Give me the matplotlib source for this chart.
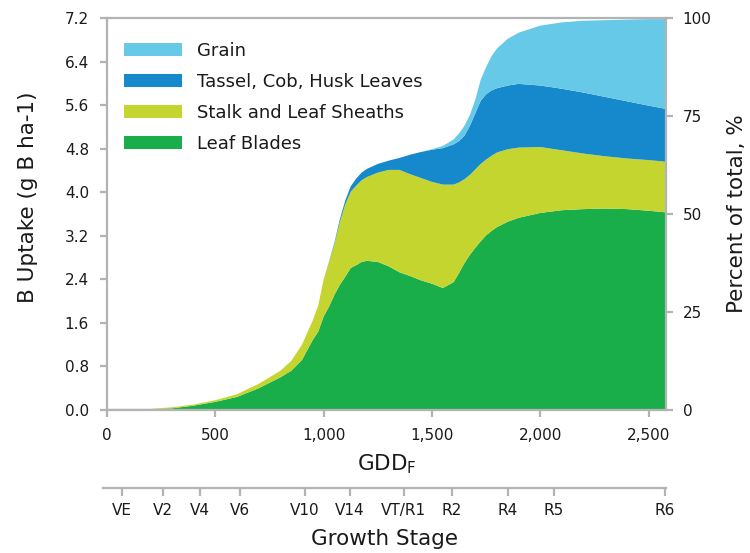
import matplotlib
matplotlib.use("Agg")
import matplotlib.pyplot as plt
from matplotlib.patches import Patch

plt.rcParams['font.family'] = ['DejaVu Sans']
plt.rcParams['mathtext.default'] = 'regular'

gdd = [0, 100, 200, 300, 400, 500, 600, 700, 800, 850, 900, 950, 975, 1000, 1025, 1050,
       1075, 1100, 1125, 1150, 1175, 1200, 1250, 1300, 1350, 1400, 1450, 1500, 1550, 1600,
       1625, 1650, 1675, 1700, 1725, 1750, 1775, 1800, 1850, 1900, 2000, 2100, 2200, 2300,
       2400, 2500, 2580]

leaf_blades = [0.02, 0.02, 0.02, 0.03, 0.08, 0.15, 0.24, 0.40, 0.60, 0.72, 0.92, 1.29, 1.44, 1.72, 1.90, 2.12,
               2.30, 2.45, 2.61, 2.66, 2.72, 2.74, 2.72, 2.64, 2.53, 2.46, 2.38, 2.32, 2.24, 2.35,
               2.52, 2.70, 2.85, 2.98, 3.10, 3.21, 3.29, 3.36, 3.46, 3.53, 3.62, 3.67, 3.69, 3.70,
               3.69, 3.66, 3.63]
stalk_sheaths = [0, 0, 0, 0.02, 0.02, 0.03, 0.05, 0.08, 0.12, 0.18, 0.28, 0.36, 0.48, 0.68, 0.82, 0.93,
                 1.16, 1.33, 1.40, 1.46, 1.50, 1.54, 1.64, 1.77, 1.88, 1.87, 1.88, 1.87, 1.90, 1.79,
                 1.66, 1.54, 1.47, 1.44, 1.42, 1.39, 1.38, 1.37, 1.33, 1.29, 1.21, 1.10, 1.02, 0.96,
                 0.93, 0.93, 0.93]
tassel_cob_husk = [0, 0, 0, 0, 0, 0, 0, 0, 0, 0, 0, 0, 0, 0, 0.01, 0.03,
                   0.05, 0.07, 0.10, 0.13, 0.14, 0.15, 0.16, 0.17, 0.22, 0.36, 0.48, 0.59, 0.67, 0.74,
                   0.76, 0.80, 0.90, 1.03, 1.16, 1.20, 1.20, 1.18, 1.17, 1.17, 1.13, 1.13, 1.12, 1.09,
                   1.05, 1.00, 0.97]
grain = [0, 0, 0, 0, 0, 0, 0, 0, 0, 0, 0, 0, 0, 0, 0, 0,
         0, 0, 0, 0, 0, 0, 0, 0, 0, 0, 0, 0.01, 0.04, 0.09,
         0.14, 0.18, 0.20, 0.25, 0.39, 0.50, 0.63, 0.73, 0.86, 0.94, 1.10, 1.22, 1.32, 1.41,
         1.50, 1.59, 1.65]

series_labels = ['Leaf Blades', 'Stalk and Leaf Sheaths', 'Tassel, Cob, Husk Leaves', 'Grain']
series_colors = ['#1aae4b', '#c5d52f', '#1589cc', '#66c9e8']

y_ticks = [0.0, 0.8, 1.6, 2.4, 3.2, 4.0, 4.8, 5.6, 6.4, 7.2]
pct_ticks = [0, 25, 50, 75, 100]
x_ticks = [0, 500, 1000, 1500, 2000, 2500]
x_tick_labels = ['0', '500', '1,000', '1,500', '2,000', '2,500']

stage_labels = ['VE', 'V2', 'V4', 'V6', 'V10', 'V14', 'VT/R1', 'R2', 'R4', 'R5', 'R6']
stage_gdd = [69, 258, 429, 613, 913, 1121, 1370, 1591, 1850, 2062, 2574]

gray = '#b3b3b3'
txt = '#1a1a1a'
tick_fs = 11
label_fs = 15.5

fig = plt.figure(figsize=(7.5, 5.53), dpi=100)
W, H = 750, 553
ax = fig.add_axes([107 / W, 1 - 410 / H, (666 - 107) / W, (410 - 18) / H])

ax.stackplot(gdd, leaf_blades, stalk_sheaths, tassel_cob_husk, grain,
             colors=series_colors, linewidth=0)
ax.set_xlim(0, 2580)
ax.set_ylim(0, 7.2)
ax.set_yticks(y_ticks)
ax.set_yticklabels([f'{v:.1f}' for v in y_ticks])
ax.set_xticks(x_ticks)
ax.set_xticklabels(x_tick_labels)

for s in ax.spines.values():
    s.set_color(gray)
    s.set_linewidth(1.6)
ax.tick_params(axis='both', colors=gray, width=1.6, length=5, labelcolor=txt, labelsize=tick_fs)
ax.tick_params(axis='x', pad=8)
ax.tick_params(axis='y', pad=8)
ax.set_ylabel('B Uptake (g B ha-1)', fontsize=label_fs, color=txt, labelpad=19)
ax.yaxis.label.set_y(0.543)
ax.set_xlabel('GDD$_F$', fontsize=label_fs, color=txt, labelpad=7)

ax2 = ax.twinx()
ax2.set_ylim(0, 100)
ax2.set_yticks(pct_ticks)
for s in ax2.spines.values():
    s.set_visible(False)
ax2.tick_params(axis='y', colors=gray, width=1.6, length=5, labelcolor=txt, labelsize=tick_fs, pad=7)
ax2.set_ylabel('Percent of total, %', fontsize=label_fs, color=txt, labelpad=11)

handles = [Patch(facecolor=c, edgecolor='none', label=l) for c, l in zip(series_colors, series_labels)]
leg = ax.legend(handles=handles[::-1], loc='upper left', bbox_to_anchor=(0.008, 0.972),
                frameon=False, fontsize=13, handlelength=3.2, handleheight=0.78,
                handletextpad=0.83, labelspacing=0.72, borderaxespad=0.3)
for t in leg.get_texts():
    t.set_color(txt)

# Growth stage axis
sx0 = 103
axs = fig.add_axes([sx0 / W, 1 - 488 / H, (666 - sx0) / W, 0.001])
axs.set_xlim(-(107 - sx0) * 500 / 108.4, 2580)
axs.set_ylim(0, 1)
axs.patch.set_visible(False)
for k in ['top', 'left', 'right']:
    axs.spines[k].set_visible(False)
axs.spines['bottom'].set_color(gray)
axs.spines['bottom'].set_linewidth(1.6)
axs.set_yticks([])
axs.set_xticks(stage_gdd)
axs.set_xticklabels(stage_labels)
axs.tick_params(axis='x', colors=gray, width=1.6, length=6, labelcolor=txt, labelsize=tick_fs, pad=5)
axs.set_xlabel('Growth Stage', fontsize=label_fs, color=txt, labelpad=8)

fig.savefig('out.png', dpi=100)
